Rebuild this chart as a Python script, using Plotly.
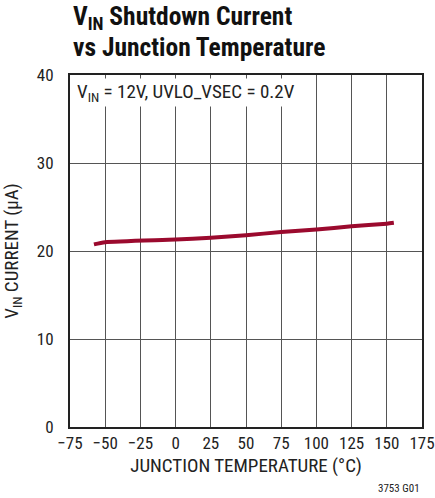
import plotly.graph_objects as go

temp_c = [-58, -50, 0, 25, 50, 75, 100, 125, 150, 155]
current_ua = [20.75, 21.0, 21.3, 21.5, 21.8, 22.15, 22.45, 22.8, 23.1, 23.2]
x_ticks = [-75, -50, -25, 0, 25, 50, 75, 100, 125, 150, 175]
x_tick_labels = ["\u221275", "\u221250", "\u221225", "0", "25", "50", "75", "100", "125", "150", "175"]
y_ticks = [0, 10, 20, 30, 40]

FONT = "Roboto Condensed, Liberation Sans Narrow, sans-serif"

fig = go.Figure()
fig.add_trace(go.Scatter(x=temp_c, y=current_ua, mode="lines",
                         line=dict(color="#9b0a2e", width=4, shape="spline", smoothing=0.6),
                         showlegend=False, hoverinfo="skip"))

fig.update_layout(
    width=435, height=498,
    margin=dict(l=70, r=13, t=75, b=71, autoexpand=False),
    paper_bgcolor="white", plot_bgcolor="white",
    font=dict(family=FONT, color="#222", size=17),
    xaxis=dict(range=[-75, 175], tickvals=x_ticks, ticktext=x_tick_labels,
               showgrid=True, gridcolor="#555", gridwidth=1.3,
               showline=True, linecolor="#222", linewidth=2, mirror=True,
               ticks="", zeroline=False, tickfont=dict(size=17), automargin=False,
               ticklabelstandoff=0,
               title=dict(text="JUNCTION TEMPERATURE (\u00b0C)", font=dict(size=19), standoff=6)),
    yaxis=dict(range=[0, 40], tickvals=y_ticks,
               showgrid=True, gridcolor="#555", gridwidth=1.3,
               showline=True, linecolor="#222", linewidth=2, mirror=True,
               ticks="", zeroline=False, tickfont=dict(size=17), automargin=False,
               ticklabelstandoff=11,
               title=dict(text="V<sub>IN</sub> CURRENT (\u00b5A)", font=dict(size=19), standoff=17)),
    annotations=[
        dict(text="<b>V<sub>IN</sub> Shutdown Current</b>",
             xref="paper", yref="paper", x=0.0, y=1.0, xanchor="left", yanchor="bottom",
             yshift=39, xshift=1, showarrow=False, align="left",
             font=dict(size=25.5, family=FONT, color="#111")),
        dict(text="<b>vs Junction Temperature</b>",
             xref="paper", yref="paper", x=0.0, y=1.0, xanchor="left", yanchor="bottom",
             yshift=11, xshift=1, showarrow=False, align="left",
             font=dict(size=25.5, family=FONT, color="#111")),
        dict(text="V<sub>IN</sub> = 12V, UVLO_VSEC = 0.2V",
             xref="paper", yref="paper", x=0.0, y=1.0, xanchor="left", yanchor="top",
             xshift=5, yshift=-3, showarrow=False, bgcolor="white",
             font=dict(size=19, family=FONT, color="#222")),
        dict(text="3753 G01", xref="paper", yref="paper", x=1.0, y=0.0,
             xanchor="right", yanchor="middle", yshift=-61, xshift=0,
             showarrow=False, font=dict(size=11, family=FONT, color="#222")),
    ],
)

fig.write_html("out.html", config={"displayModeBar": False},
               post_script="document.body.style.margin='0px';")
